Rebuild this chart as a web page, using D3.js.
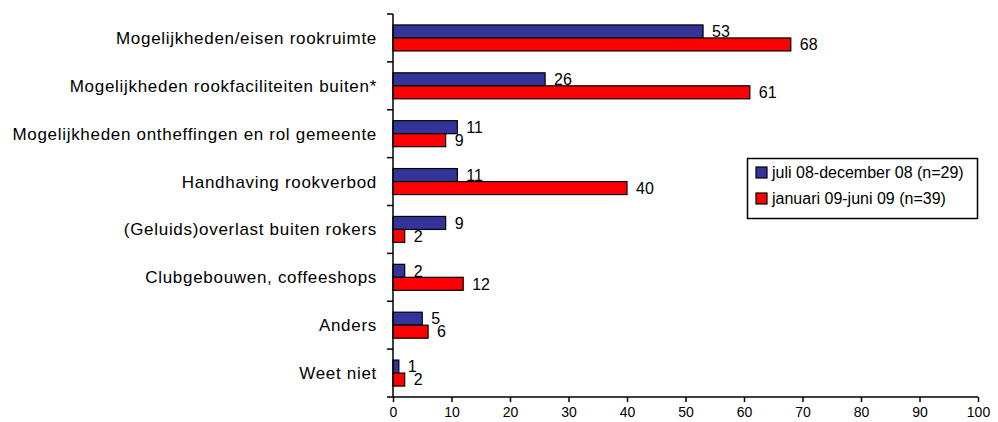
<!DOCTYPE html>
<html><head><meta charset="utf-8">
<script src="https://cdn.jsdelivr.net/npm/d3@7"></script>
<style>body{margin:0;background:#fff}svg{display:block;font-family:"Liberation Sans",Arial,sans-serif}</style>
</head><body><svg id="c" width="998" height="422"></svg>
<script>
const categories = ["Mogelijkheden/eisen rookruimte","Mogelijkheden rookfaciliteiten buiten*","Mogelijkheden ontheffingen en rol gemeente","Handhaving rookverbod","(Geluids)overlast buiten rokers","Clubgebouwen, coffeeshops","Anders","Weet niet"];
const series1 = [53,26,11,11,9,2,5,1];
const series2 = [68,61,9,40,2,12,6,2];
const seriesNames = ["juli 08-december 08 (n=29)","januari 09-juni 09 (n=39)"];
const seriesColors = ["#333399","#FF0000"];
const xTicks = [0,10,20,30,40,50,60,70,80,90,100];

const svg = d3.select("#c");
const x = d3.scaleLinear().domain([0,100]).range([393,978]);
const y = d3.scaleBand().domain(categories).range([14,397]);
const bh = 13;

// bars
[series1, series2].forEach((s, si) => {
  const g = svg.append("g");
  g.selectAll("rect").data(s).join("rect")
    .attr("x", x(0))
    .attr("y", (d,i) => y(categories[i]) + y.bandwidth()/2 - bh + si*bh)
    .attr("width", d => x(d) - x(0))
    .attr("height", bh)
    .attr("fill", seriesColors[si])
    .attr("stroke", "#000").attr("stroke-width", 1.2);
  g.selectAll("text").data(s).join("text")
    .attr("x", d => x(d) + 9)
    .attr("y", (d,i) => y(categories[i]) + y.bandwidth()/2 - bh + si*bh + bh/2)
    .attr("dy", "0.36em")
    .attr("font-size", 16).attr("fill", "#000")
    .text(d => d);
});

// y axis
const ya = svg.append("g").attr("transform", `translate(${x(0)},0)`)
  .call(d3.axisLeft(y).tickSize(0).tickPadding(16));
ya.select(".domain").remove();
ya.selectAll("text").attr("font-size", 17).attr("fill", "#000").attr("dy", "0.35em")
  .attr("letter-spacing", "0.7px")
  .attr("font-family", '"Liberation Sans",Arial,sans-serif');
// band boundary ticks
const bounds = categories.map(c => y(c)).concat([y.range()[1]]);
svg.append("g").selectAll("line").data(bounds).join("line")
  .attr("x1", x(0) - 6).attr("x2", x(0)).attr("y1", d => d).attr("y2", d => d)
  .attr("stroke", "#000").attr("stroke-width", 1.5);
svg.append("line").attr("x1", x(0)).attr("x2", x(0)).attr("y1", 14).attr("y2", 397)
  .attr("stroke", "#000").attr("stroke-width", 1.5);

// x axis
const xa = svg.append("g").attr("transform", `translate(0,397)`)
  .call(d3.axisBottom(x).tickValues(xTicks).tickSize(5).tickPadding(5));
xa.select(".domain").attr("stroke-width", 1.5).attr("d", `M${x(0)},0H${x(100)}`);
xa.selectAll(".tick line").attr("stroke-width", 1.5);
xa.selectAll("text").attr("font-size", 14).attr("fill", "#000")
  .attr("font-family", '"Liberation Sans",Arial,sans-serif');

// legend
const lg = svg.append("g");
lg.append("rect").attr("x", 747.5).attr("y", 158.5).attr("width", 230).attr("height", 60)
  .attr("fill", "#fff").attr("stroke", "#000").attr("stroke-width", 1.5);
seriesNames.forEach((n, i) => {
  lg.append("rect").attr("x", 756).attr("y", 167 + i*26).attr("width", 11).attr("height", 11)
    .attr("fill", seriesColors[i]).attr("stroke", "#000").attr("stroke-width", 1.2);
  lg.append("text").attr("x", 772).attr("y", 172.5 + i*26).attr("dy", "0.36em")
    .attr("font-size", 16).attr("fill", "#000").text(n);
});
</script></body></html>
